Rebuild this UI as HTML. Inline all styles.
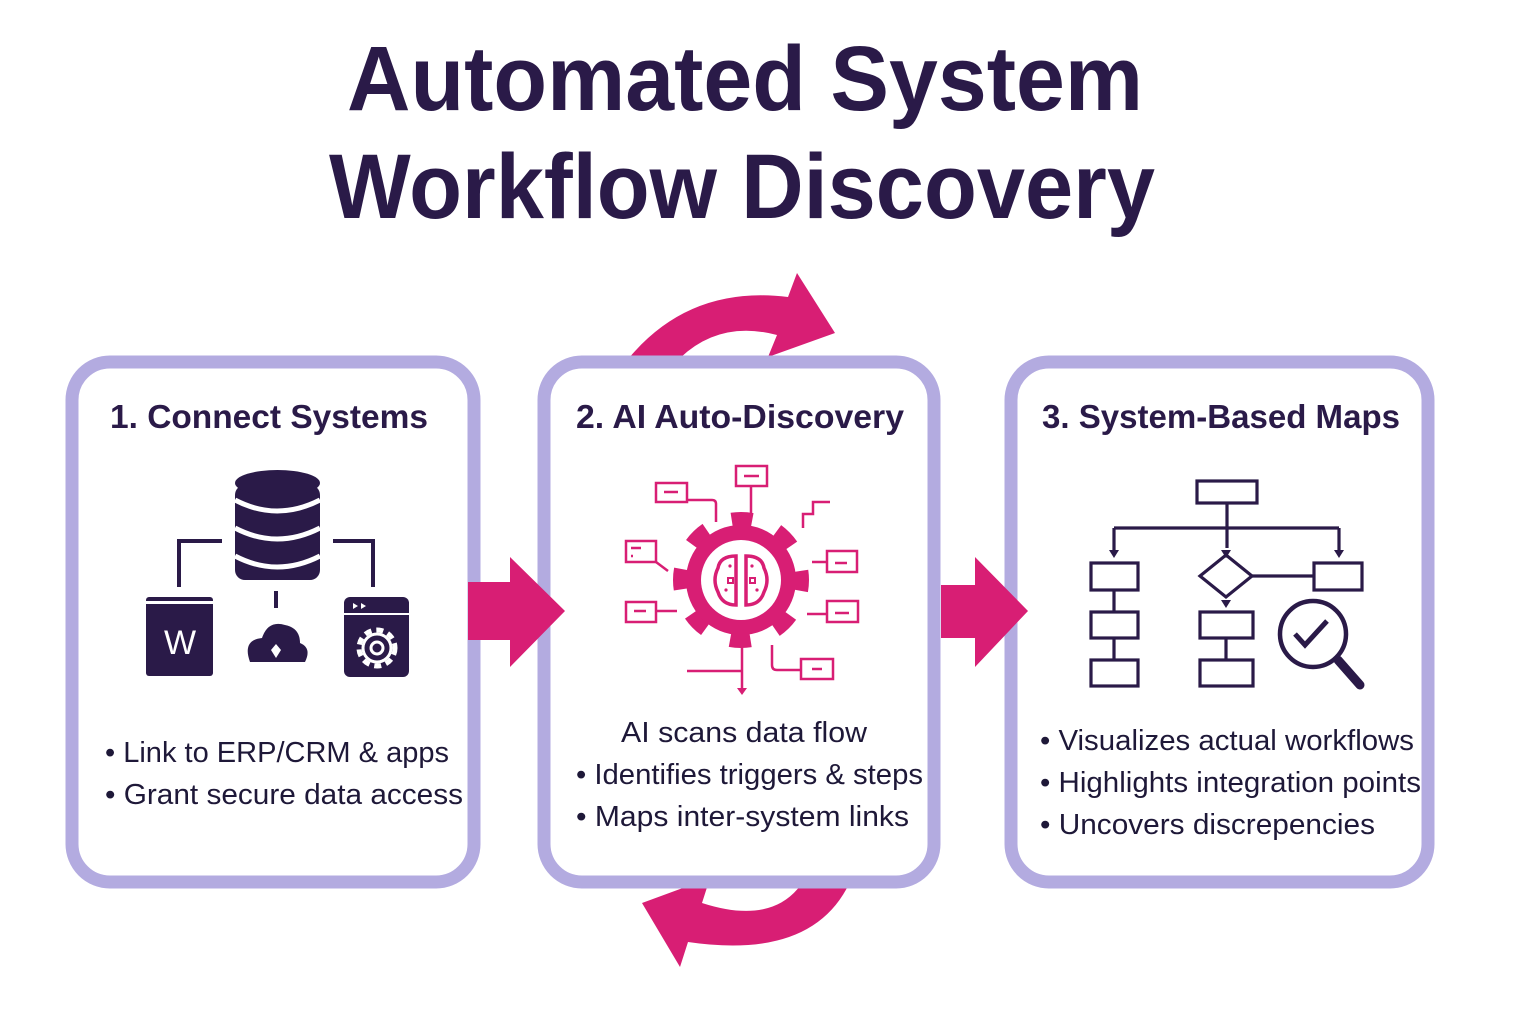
<!DOCTYPE html>
<html><head><meta charset="utf-8"><style>
html,body{margin:0;padding:0;background:#fff;width:1536px;height:1024px;overflow:hidden}
text{font-family:"Liberation Sans",sans-serif}
.t{fill:#2a1a48;font-weight:bold}
.b{fill:#1e1838;font-size:29px}
</style></head><body>
<svg width="1536" height="1024" viewBox="0 0 1536 1024" xmlns="http://www.w3.org/2000/svg">
<text class="t" x="745" y="110" font-size="92" text-anchor="middle" textLength="796" lengthAdjust="spacingAndGlyphs">Automated System</text>
<text class="t" x="742" y="218" font-size="92" text-anchor="middle" textLength="826" lengthAdjust="spacingAndGlyphs">Workflow Discovery</text>

<path d="M629,358 Q690,285 788,297 L797,273 L835,333 L768,357 L777,335 Q720,320 680,358 Z" fill="#d81e74"/>
<path d="M848,886 Q810,960 688,942 L680,967 L642,903 L710,878 L702,903 Q770,925 800,886 Z" fill="#d81e74"/>

<rect x="72" y="362" width="402" height="520" rx="38" fill="#fff" stroke="#b3abe0" stroke-width="13"/>
<rect x="544" y="362" width="390" height="520" rx="38" fill="#fff" stroke="#b3abe0" stroke-width="13"/>
<rect x="1011" y="362" width="417" height="520" rx="38" fill="#fff" stroke="#b3abe0" stroke-width="13"/>

<path d="M468,582 L510,582 L510,557 L565,611 L510,667 L510,640 L468,640 Z" fill="#d81e74"/>
<path d="M941,585 L975,585 L975,557 L1028,611 L975,667 L975,638 L941,638 Z" fill="#d81e74"/>

<text class="t" x="110" y="428" font-size="33" textLength="318" lengthAdjust="spacingAndGlyphs">1. Connect Systems</text>
<text class="t" x="576" y="428" font-size="33" textLength="328" lengthAdjust="spacingAndGlyphs">2. AI Auto-Discovery</text>
<text class="t" x="1042" y="428" font-size="33" textLength="358" lengthAdjust="spacingAndGlyphs">3. System-Based Maps</text>

<g fill="#2a1a48" stroke="none">
<rect x="235" y="485" width="85" height="95" rx="10"/>
<ellipse cx="277.5" cy="483" rx="42.5" ry="13"/>
</g>
<g fill="none" stroke="#fff" stroke-width="5">
<path d="M235,500 Q277,522 320,500"/>
<path d="M235,528 Q277,550 320,528"/>
<path d="M235,556 Q277,578 320,556"/>
</g>
<g fill="none" stroke="#2a1a48" stroke-width="4">
<path d="M222,541 L179,541 L179,587"/>
<path d="M333,541 L373,541 L373,587"/>
<path d="M276,591 L276,608"/>
</g>
<rect x="146" y="597" width="67" height="79" rx="3" fill="#2a1a48"/>
<rect x="146" y="601" width="67" height="3" fill="#fff"/>
<text x="180" y="654" font-size="34" fill="#fff" text-anchor="middle">W</text>
<path d="M250,662 Q242,640 262,638 Q268,620 285,625 Q300,628 300,643 Q312,648 305,662 Z" fill="#2a1a48"/>
<path d="M276,658 L271,650 L276,644 L281,650 Z" fill="#fff"/>
<rect x="344" y="597" width="65" height="80" rx="6" fill="#2a1a48"/>
<rect x="344" y="613" width="65" height="2" fill="#fff"/>
<path d="M353,603 l5,3 l-5,3z M361,603 l5,3 l-5,3z" fill="#fff"/>
<circle cx="377" cy="648" r="18" fill="none" stroke="#fff" stroke-width="5" stroke-dasharray="7 5"/>
<circle cx="377" cy="648" r="14" fill="none" stroke="#fff" stroke-width="3"/>
<circle cx="377" cy="648" r="6" fill="none" stroke="#fff" stroke-width="3"/>

<circle cx="741" cy="580" r="56" fill="none" stroke="#d81e74" stroke-width="24" stroke-dasharray="19 25" stroke-dashoffset="9"/>
<circle cx="741" cy="580" r="55" fill="#d81e74"/>
<circle cx="741" cy="580" r="40" fill="#fff"/>
<g fill="none" stroke="#d81e74" stroke-width="3.5">
<path d="M736,556 Q720,556 718,568 Q712,580 718,592 Q722,605 736,605 Z"/>
<path d="M746,556 Q762,556 764,568 Q770,580 764,592 Q760,605 746,605 Z"/>
<rect x="728" y="578" width="5" height="5" stroke-width="2"/><rect x="750" y="578" width="5" height="5" stroke-width="2"/>
</g>
<g fill="#d81e74"><circle cx="730" cy="566" r="1.6"/><circle cx="726" cy="590" r="1.6"/><circle cx="752" cy="566" r="1.6"/><circle cx="757" cy="590" r="1.6"/></g>
<g fill="none" stroke="#d81e74" stroke-width="2.5">
<rect x="736" y="466" width="31" height="20"/><path d="M744,476 h15 M751,486 v32"/>
<rect x="656" y="483" width="31" height="19"/><path d="M664,492 h14 M687,500 h25 q4,0 4,4 v18"/>
<path d="M803,528 v-14 h10 v-12 h17"/>
<rect x="626" y="541" width="30" height="21"/><path d="M631,548 h10 M631,556 h2 M656,562 l12,9"/>
<rect x="626" y="602" width="30" height="20"/><path d="M634,611 h12 M656,611 h21"/>
<rect x="827" y="551" width="30" height="21"/><path d="M835,563 h12 M812,562 h15"/>
<rect x="827" y="601" width="31" height="21"/><path d="M835,613 h14 M807,614 h20"/>
<rect x="801" y="659" width="32" height="20"/><path d="M812,669 h10 M772,645 v20 q0,5 5,5 h24"/>
<path d="M687,671 h55 M742,645 v45"/>
</g>
<path d="M737,688 h10 l-5,7z" fill="#d81e74"/>

<g fill="none" stroke="#2a1a48" stroke-width="3.2">
<rect x="1197" y="481" width="60" height="22"/>
<path d="M1227,503 v45 M1114,528 h225 M1114,528 v22 M1339,528 v22"/>
<rect x="1091" y="563" width="47" height="27"/><rect x="1091" y="612" width="47" height="26"/><rect x="1091" y="660" width="47" height="26"/>
<path d="M1114,590 v22 M1114,638 v22"/>
<path d="M1226,555 L1252,576 L1226,597 L1200,576 Z"/>
<path d="M1252,576 h62"/>
<rect x="1314" y="563" width="48" height="27"/>
<rect x="1200" y="612" width="53" height="26"/><rect x="1200" y="660" width="53" height="26"/>
<path d="M1226,638 v22"/>
<circle cx="1313" cy="634" r="33" stroke-width="4.5"/>
<path d="M1295,634 l10,11 l22,-24" stroke-width="5"/>
</g>
<path d="M1338,660 L1360,685" stroke="#2a1a48" stroke-width="9" stroke-linecap="round"/>
<g fill="#2a1a48"><path d="M1109,550 h10 l-5,8z M1221,550 h10 l-5,8z M1334,550 h10 l-5,8z M1221,600 h10 l-5,8z"/></g>

<text class="b" x="105" y="762" textLength="344" lengthAdjust="spacingAndGlyphs">• Link to ERP/CRM &amp; apps</text>
<text class="b" x="105" y="804" textLength="358" lengthAdjust="spacingAndGlyphs">• Grant secure data access</text>
<text class="b" x="621" y="742" textLength="246" lengthAdjust="spacingAndGlyphs">AI scans data flow</text>
<text class="b" x="576" y="784" textLength="347" lengthAdjust="spacingAndGlyphs">• Identifies triggers &amp; steps</text>
<text class="b" x="576" y="826" textLength="333" lengthAdjust="spacingAndGlyphs">• Maps inter-system links</text>
<text class="b" x="1040" y="750" textLength="374" lengthAdjust="spacingAndGlyphs">• Visualizes actual workflows</text>
<text class="b" x="1040" y="792" textLength="381" lengthAdjust="spacingAndGlyphs">• Highlights integration points</text>
<text class="b" x="1040" y="834" textLength="335" lengthAdjust="spacingAndGlyphs">• Uncovers discrepencies</text>
</svg>
</body></html>
